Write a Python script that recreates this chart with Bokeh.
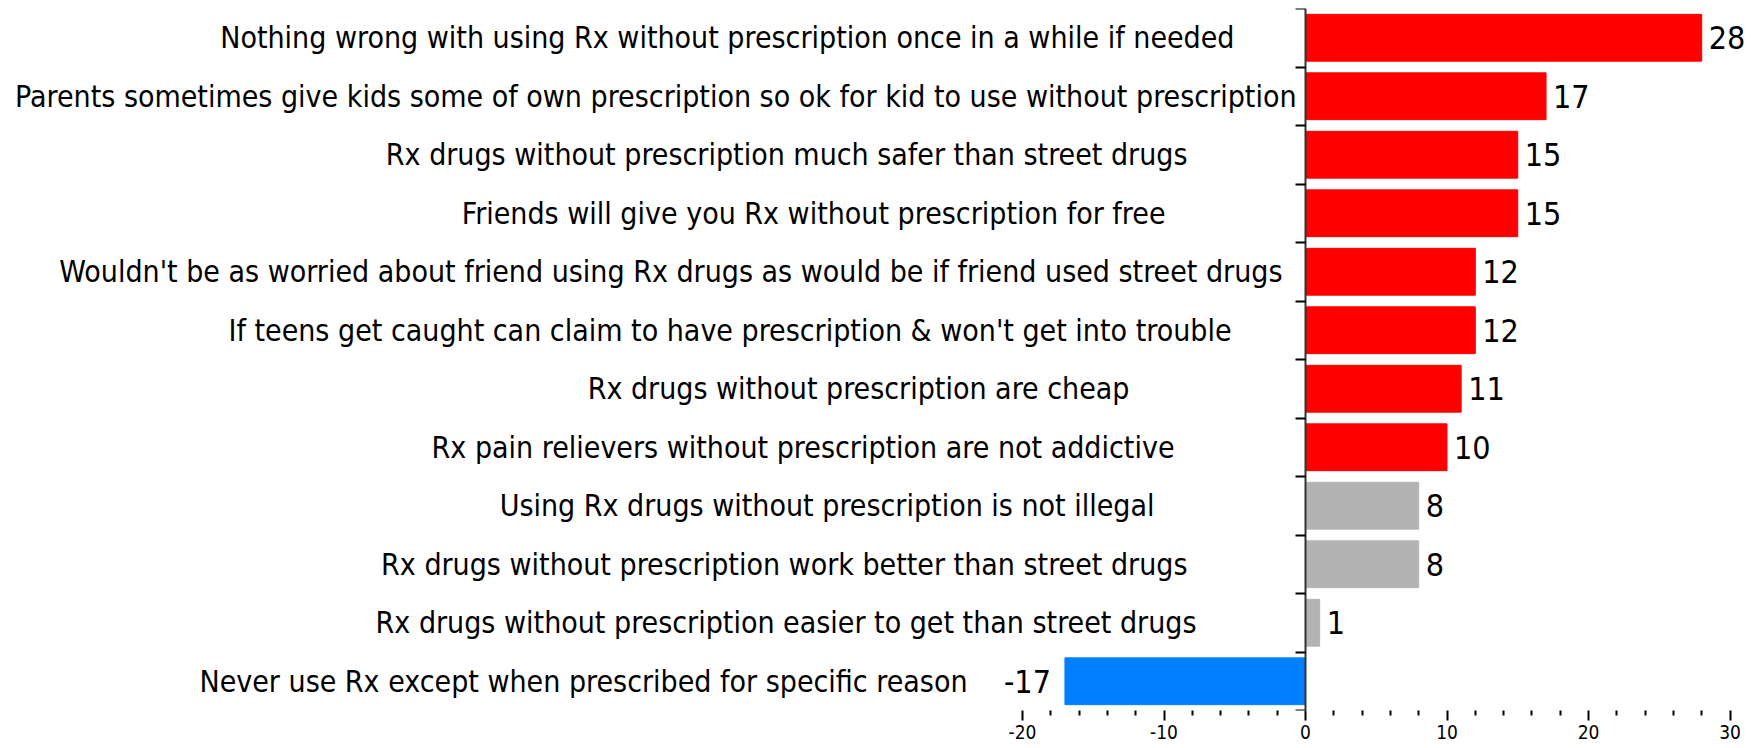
from bokeh.plotting import figure
from bokeh.models import Range1d, FixedTicker, ColumnDataSource
from bokeh.core.properties import value
from bokeh.embed import file_html
from bokeh.resources import INLINE

# ---- data ----
categories = [
    "Nothing wrong with using Rx without prescription once in a while if needed",
    "Parents sometimes give kids some of own prescription so ok for kid to use without prescription",
    "Rx drugs without prescription much safer than street drugs",
    "Friends will give you Rx without prescription for free",
    "Wouldn't be as worried about friend using Rx drugs as would be if friend used street drugs",
    "If teens get caught can claim to have prescription & won't get into trouble",
    "Rx drugs without prescription are cheap",
    "Rx pain relievers without prescription are not addictive",
    "Using Rx drugs without prescription is not illegal",
    "Rx drugs without prescription work better than street drugs",
    "Rx drugs without prescription easier to get than street drugs",
    "Never use Rx except when prescribed for specific reason",
]
values = [28, 17, 15, 15, 12, 12, 11, 10, 8, 8, 1, -17]
groups = ["high", "high", "high", "high", "high", "high", "high", "high",
          "low", "low", "low", "negative"]
x_ticks = [-20, -10, 0, 10, 20, 30]
x_tick_labels = ["-20", "-10", "0", "10", "20", "30"]

# ---- styling / layout ----
group_colors = {"high": "#FF0000", "low": "#B3B3B3", "negative": "#0080FF"}
# distance (px) of each label's right edge from the zero line
label_gap_px = [71, 9, 118, 140, 23, 74, 176, 131, 151, 118, 109, 338]
FONT = "DejaVu Sans Condensed"

n = len(categories)
ycent = [n - 0.5 - i for i in range(n)]
colors = [group_colors[g] for g in groups]

src = ColumnDataSource(dict(
    y=ycent, v=values, cat=categories, color=colors,
    lab=[str(v) for v in values],
    lx=[0] * n, loff=[-g for g in label_gap_px],
    valign=["left" if v >= 0 else "right" for v in values],
    voff=[7 if v >= 0 else -14 for v in values],
    zero=[0] * n,
))

L = -2                     # observed page x of the frame's left edge
frame_w = 1745
px_per_unit = 14.15
x_start = -20 - (1020 - L) / px_per_unit
x_end = x_start + frame_w / px_per_unit

p = figure(frame_width=frame_w, frame_height=702,
           x_range=Range1d(x_start, x_end), y_range=Range1d(0, n),
           output_backend="svg", toolbar_location=None,
           min_border_left=0, min_border_right=0, min_border_top=8, min_border_bottom=0)
p.outline_line_color = None
p.xgrid.visible = False
p.ygrid.visible = False
p.background_fill_color = "white"

p.hbar(y="y", left="zero", right="v", height=0.8, color="color", source=src)

p.text(x="lx", y="y", text="cat", x_offset="loff", source=src,
       text_align="right", text_baseline="middle",
       text_font=value(FONT), text_font_size="30px", text_color="black")
p.text(x="v", y="y", text="lab", x_offset="voff", text_align="valign", source=src,
       text_baseline="middle",
       text_font=value(FONT), text_font_size="32px", text_color="black")

# x axis
xa = p.xaxis[0]
minor = [t for t in range(-20, 31, 2) if t % 10 != 0]
xa.ticker = FixedTicker(ticks=x_ticks, minor_ticks=minor)
xa.major_label_overrides = dict(zip(x_ticks, x_tick_labels))
xa.axis_line_color = None
xa.major_tick_in = 0
xa.major_tick_out = 10
xa.minor_tick_in = 0
xa.minor_tick_out = 5
xa.major_tick_line_color = "black"
xa.minor_tick_line_color = "black"
xa.major_tick_line_width = 2
xa.minor_tick_line_width = 2
xa.major_label_text_font = FONT
xa.major_label_text_font_size = "19px"
xa.major_label_text_color = "black"
xa.major_label_standoff = 4

# y axis at zero, ticks at category boundaries
ya = p.yaxis[0]
ya.fixed_location = 0
ya.ticker = FixedTicker(ticks=list(range(n + 1)), minor_ticks=[])
ya.major_label_overrides = {i: "" for i in range(n + 1)}
ya.major_label_text_font_size = "1px"
ya.major_tick_in = 0
ya.major_tick_out = 10
ya.minor_tick_in = 0
ya.minor_tick_out = 0
ya.axis_line_color = "#333333"
ya.axis_line_width = 2
ya.major_tick_line_color = "black"
ya.major_tick_line_width = 2

open("out.html", "w").write(file_html(p, INLINE))
